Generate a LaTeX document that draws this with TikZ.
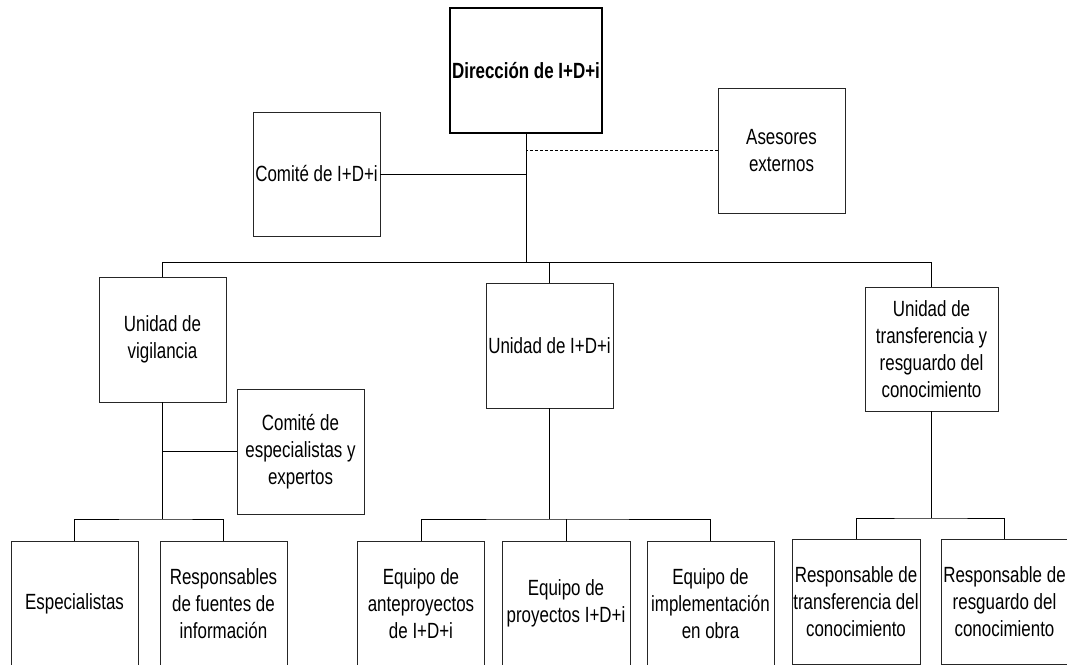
\documentclass[tikz,border=0pt]{standalone}
\usepackage{fontspec}
\setmainfont[FakeStretch=0.77]{Liberation Sans}
\begin{document}
\begin{tikzpicture}[x=1pt,y=-1pt,
  box/.style={draw=black!85, line width=0.9pt, rectangle, inner sep=0pt, align=center,
    minimum width=127pt, minimum height=125pt, font=\fontsize{22}{27}\selectfont},
  link/.style={draw=black, line width=1pt},
  dlink/.style={draw=black, line width=0.8pt, dash pattern=on 3pt off 2pt}]
\useasboundingbox (0,0) rectangle (1067,664);
\clip (0,0) rectangle (1067,664);
\fill[white] (0,0) rectangle (1067,664);
% nodes
\node[box, minimum width=152pt, line width=1.8pt, draw=black, font=\bfseries\fontsize{22}{27}\selectfont] (dir) at (526,70.5) {Dirección de I+D+i};
\node[box, minimum height=124pt] (com) at (316.5,174) {Comité de I+D+i};
\node[box] (ase) at (781.5,150.5) {Asesores\\externos};
\node[box] (uv) at (162.5,339.5) {Unidad de\\vigilancia};
\node[box] (ce) at (300.5,451.5) {Comité de\\especialistas y\\expertos};
\node[box] (ui) at (549.5,345.5) {Unidad de I+D+i};
\node[box, minimum width=133pt, minimum height=124pt] (ut) at (931.5,349) {Unidad de\\transferencia y\\resguardo del\\conocimiento};
\node[box] (esp) at (74.5,603.5) {Especialistas};
\node[box] (rf) at (223.5,603.5) {Responsables\\de fuentes de\\información};
\node[box] (ea) at (421,603.5) {Equipo de\\anteproyectos\\de I+D+i};
\node[box, minimum width=128pt] (ep) at (566,603.5) {Equipo de\\proyectos I+D+i};
\node[box] (ei) at (710.5,603.5) {Equipo de\\implementación\\en obra};
\node[box, minimum width=128pt] (rt) at (856,601.5) {Responsable de\\transferencia del\\conocimiento};
\node[box] (rr) at (1004.5,601.5) {Responsable de\\resguardo del\\conocimiento};
% bus coordinates
\coordinate (bus) at (526,262);
\coordinate (busV) at (162.5,519);
\coordinate (busI) at (549.5,519);
\coordinate (busT) at (931.5,518);
% connectors
\draw[link] (dir.south) -- (bus);
\draw[link] (com.east) -- (com.east -| dir.south);
\draw[dlink] (ase.west) -- (ase.west -| dir.south);
\draw[link] (uv.north) -- (uv.north |- bus) -- (ut.north |- bus) -- (ut.north);
\draw[link] (ui.north) -- (ui.north |- bus);
\draw[link] (uv.south) -- (busV);
\draw[link] (ce.west) -- (ce.west -| uv.south);
\draw[link] (esp.north) |- (busV) -| (rf.north);
\draw[link] (ui.south) -- (busI);
\draw[link] (ea.north) |- (busI) -| (ei.north);
\draw[link] (ep.north) -- (ep.north |- busI);
\draw[link] (ut.south) -- (busT);
\draw[link] (rt.north) |- (busT) -| (rr.north);
\end{tikzpicture}
\end{document}
